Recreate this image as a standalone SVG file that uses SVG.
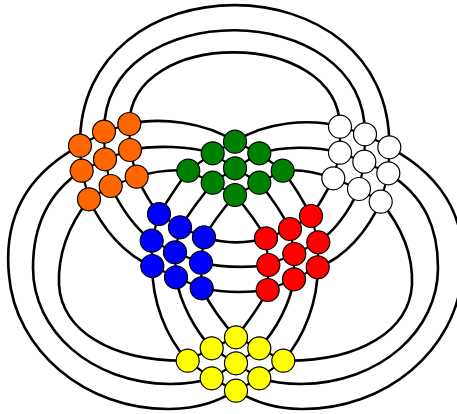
<svg xmlns="http://www.w3.org/2000/svg" width="457" height="414" viewBox="0 0 457 414">
<style>
.s{fill:none;stroke:#000;stroke-width:2.6;stroke-linecap:round}
.t{fill:none;stroke:#000;stroke-width:2.2}
circle{stroke:#000;stroke-width:1.2}
.o circle{fill:#FF6600}.g circle{fill:#008000}.w circle{fill:#FFFFFF}
.b circle{fill:#0000FF}.r circle{fill:#FF0000}.y circle{fill:#FFFF00}
</style>
<rect width="457" height="414" fill="#fff"/>
<g id="connectors">
<g class="s">
<path d="M80,145.7 C78,-42 392,-42 389.3,147.3"/>
<path d="M104,131.7 C104,-4 365,-4 365,134.3"/>
<path d="M129.3,124 C131,28 338,28 340,126.7"/>
<path d="M129.3,124 C160,117 205,122 235,141.7"/>
<path d="M130,150 C155,145 190,146 212.7,153.3"/>
<path d="M136.7,176.7 C155,171 170,169 188.3,170.7"/>
<path d="M235,141.7 C265,122 310,118 340,126.7"/>
<path d="M259.3,153.3 C282,146 316,146 340,152.7"/>
<path d="M282.7,170.7 C300,169 316,172 333.3,178.3"/>
<path d="M188.3,170.7 C178,184 168,200 159,214"/>
<path d="M212.7,182.7 C201,197 190,212 180,227.3"/>
<path d="M235,195 C224,208 213,222 204,237.3"/>
<path d="M282.7,170.7 C293,184 303,200 311,216"/>
<path d="M259.3,182.7 C271,197 282,213 290,229"/>
<path d="M235,195 C246,208 257,222 266,238.3"/>
<path d="M136.7,176.7 C143,190 150,203 159,214"/>
<path d="M110.7,186 C120,206 133,226 151.7,240.7"/>
<path d="M89,199.3 C102,228 125,256 152.3,266"/>
<path d="M333.3,178.3 C327,191 320,204 311,216"/>
<path d="M359,189 C350,209 337,229 318.3,242.3"/>
<path d="M380.7,201.7 C368,230 345,258 317.7,267.3"/>
<path d="M204,237.3 C225,244 245,244 266,238.3"/>
<path d="M201,262.7 C225,268 245,268 268.3,265"/>
<path d="M201.7,288.3 C225,293 245,293 267.7,290"/>
<path d="M152.3,266 C152,300 165,336 187.7,360.7"/>
<path d="M176,277.3 C180,303 195,330 211.7,348.3"/>
<path d="M201.7,288.3 C210,305 222,322 236,337.3"/>
<path d="M317.7,267.3 C318,300 305,336 283.3,360.7"/>
<path d="M294,279.3 C290,304 276,330 259.3,348.3"/>
<path d="M267.7,290 C260,306 248,322 236,337.3"/>
<path d="M80,145.7 C20,178 4,225 9,275 C15,350 85,410 170,409 C200,409 220,400 236,390.7"/>
<path d="M81.7,170.7 C45,195 33,230 33,268 C33,330 90,383 170,384 C185,384 200,382 211.7,378.3"/>
<path d="M89,199.3 C65,230 58,260 59,285 C62,330 110,362 187.7,360.7"/>
<path d="M389.3,147.3 C451,180 467,228 462,275 C456,350 386,410 301,409 C271,409 251,400 236,390.7"/>
<path d="M388.3,173.3 C426,197 438,230 438,268 C438,330 381,383 301,384 C286,384 271,382 259.3,378.3"/>
<path d="M380.7,201.7 C406,232 413,260 412,285 C409,330 361,362 283.3,360.7"/>
</g>
<g class="t">
<path d="M129.3,124 L104,131.7 L80,145.7 M130,150 L105,159.3 L81.7,170.7 M136.7,176.7 L110.7,186 L89,199.3 M129.3,124 L130,150 L136.7,176.7 M104,131.7 L105,159.3 L110.7,186 M80,145.7 L81.7,170.7 L89,199.3"/>
<path d="M235,141.7 L259.3,153.3 L282.7,170.7 M212.7,153.3 L235,168.3 L259.3,182.7 M188.3,170.7 L212.7,182.7 L235,195 M235,141.7 L212.7,153.3 L188.3,170.7 M259.3,153.3 L235,168.3 L212.7,182.7 M282.7,170.7 L259.3,182.7 L235,195"/>
<path d="M340,126.7 L365,134.3 L389.3,147.3 M340,152.7 L364.3,161.7 L388.3,173.3 M333.3,178.3 L359,189 L380.7,201.7 M340,126.7 L340,152.7 L333.3,178.3 M365,134.3 L364.3,161.7 L359,189 M389.3,147.3 L388.3,173.3 L380.7,201.7"/>
<path d="M159,214 L180,227.3 L204,237.3 M151.7,240.7 L175,252.3 L201,262.7 M152.3,266 L176,277.3 L201.7,288.3 M159,214 L151.7,240.7 L152.3,266 M180,227.3 L175,252.3 L176,277.3 M204,237.3 L201,262.7 L201.7,288.3"/>
<path d="M311,216 L290,229 L266,238.3 M318.3,242.3 L294.3,254 L268.3,265 M317.7,267.3 L294,279.3 L267.7,290 M311,216 L318.3,242.3 L317.7,267.3 M290,229 L294.3,254 L294,279.3 M266,238.3 L268.3,265 L267.7,290"/>
<path d="M236,337.3 L211.7,348.3 L187.7,360.7 M259.3,348.3 L236,363.3 L211.7,378.3 M283.3,360.7 L259.3,378.3 L236,390.7 M236,337.3 L259.3,348.3 L283.3,360.7 M211.7,348.3 L236,363.3 L259.3,378.3 M187.7,360.7 L211.7,378.3 L236,390.7"/>
</g>
</g>
<g id="orange" class="o">
<g id="o1"><circle cx="129.3" cy="124" r="11.5"/></g>
<g id="o2"><circle cx="104" cy="131.7" r="11.5"/></g>
<g id="o3"><circle cx="80" cy="145.7" r="11.5"/></g>
<g id="o4"><circle cx="130" cy="150" r="11.5"/></g>
<g id="o5"><circle cx="105" cy="159.3" r="11.5"/></g>
<g id="o6"><circle cx="81.7" cy="170.7" r="11.5"/></g>
<g id="o7"><circle cx="136.7" cy="176.7" r="11.5"/></g>
<g id="o8"><circle cx="110.7" cy="186" r="11.5"/></g>
<g id="o9"><circle cx="89" cy="199.3" r="11.5"/></g>
</g>
<g id="green" class="g">
<g id="g1"><circle cx="235" cy="141.7" r="11.5"/></g>
<g id="g2"><circle cx="212.7" cy="153.3" r="11.5"/></g>
<g id="g3"><circle cx="259.3" cy="153.3" r="11.5"/></g>
<g id="g4"><circle cx="188.3" cy="170.7" r="11.5"/></g>
<g id="g5"><circle cx="235" cy="168.3" r="11.5"/></g>
<g id="g6"><circle cx="282.7" cy="170.7" r="11.5"/></g>
<g id="g7"><circle cx="212.7" cy="182.7" r="11.5"/></g>
<g id="g8"><circle cx="259.3" cy="182.7" r="11.5"/></g>
<g id="g9"><circle cx="235" cy="195" r="11.5"/></g>
</g>
<g id="white" class="w">
<g id="w1"><circle cx="340" cy="126.7" r="11.5"/></g>
<g id="w2"><circle cx="365" cy="134.3" r="11.5"/></g>
<g id="w3"><circle cx="389.3" cy="147.3" r="11.5"/></g>
<g id="w4"><circle cx="340" cy="152.7" r="11.5"/></g>
<g id="w5"><circle cx="364.3" cy="161.7" r="11.5"/></g>
<g id="w6"><circle cx="388.3" cy="173.3" r="11.5"/></g>
<g id="w7"><circle cx="333.3" cy="178.3" r="11.5"/></g>
<g id="w8"><circle cx="359" cy="189" r="11.5"/></g>
<g id="w9"><circle cx="380.7" cy="201.7" r="11.5"/></g>
</g>
<g id="blue" class="b">
<g id="b1"><circle cx="159" cy="214" r="11.5"/></g>
<g id="b2"><circle cx="180" cy="227.3" r="11.5"/></g>
<g id="b3"><circle cx="204" cy="237.3" r="11.5"/></g>
<g id="b4"><circle cx="151.7" cy="240.7" r="11.5"/></g>
<g id="b5"><circle cx="175" cy="252.3" r="11.5"/></g>
<g id="b6"><circle cx="201" cy="262.7" r="11.5"/></g>
<g id="b7"><circle cx="152.3" cy="266" r="11.5"/></g>
<g id="b8"><circle cx="176" cy="277.3" r="11.5"/></g>
<g id="b9"><circle cx="201.7" cy="288.3" r="11.5"/></g>
</g>
<g id="red" class="r">
<g id="r1"><circle cx="311" cy="216" r="11.5"/></g>
<g id="r2"><circle cx="290" cy="229" r="11.5"/></g>
<g id="r3"><circle cx="266" cy="238.3" r="11.5"/></g>
<g id="r4"><circle cx="318.3" cy="242.3" r="11.5"/></g>
<g id="r5"><circle cx="294.3" cy="254" r="11.5"/></g>
<g id="r6"><circle cx="268.3" cy="265" r="11.5"/></g>
<g id="r7"><circle cx="317.7" cy="267.3" r="11.5"/></g>
<g id="r8"><circle cx="294" cy="279.3" r="11.5"/></g>
<g id="r9"><circle cx="267.7" cy="290" r="11.5"/></g>
</g>
<g id="yellow" class="y">
<g id="y1"><circle cx="236" cy="337.3" r="11.5"/></g>
<g id="y2"><circle cx="211.7" cy="348.3" r="11.5"/></g>
<g id="y3"><circle cx="259.3" cy="348.3" r="11.5"/></g>
<g id="y4"><circle cx="187.7" cy="360.7" r="11.5"/></g>
<g id="y5"><circle cx="236" cy="363.3" r="11.5"/></g>
<g id="y6"><circle cx="283.3" cy="360.7" r="11.5"/></g>
<g id="y7"><circle cx="211.7" cy="378.3" r="11.5"/></g>
<g id="y8"><circle cx="259.3" cy="378.3" r="11.5"/></g>
<g id="y9"><circle cx="236" cy="390.7" r="11.5"/></g>
</g>
</svg>
